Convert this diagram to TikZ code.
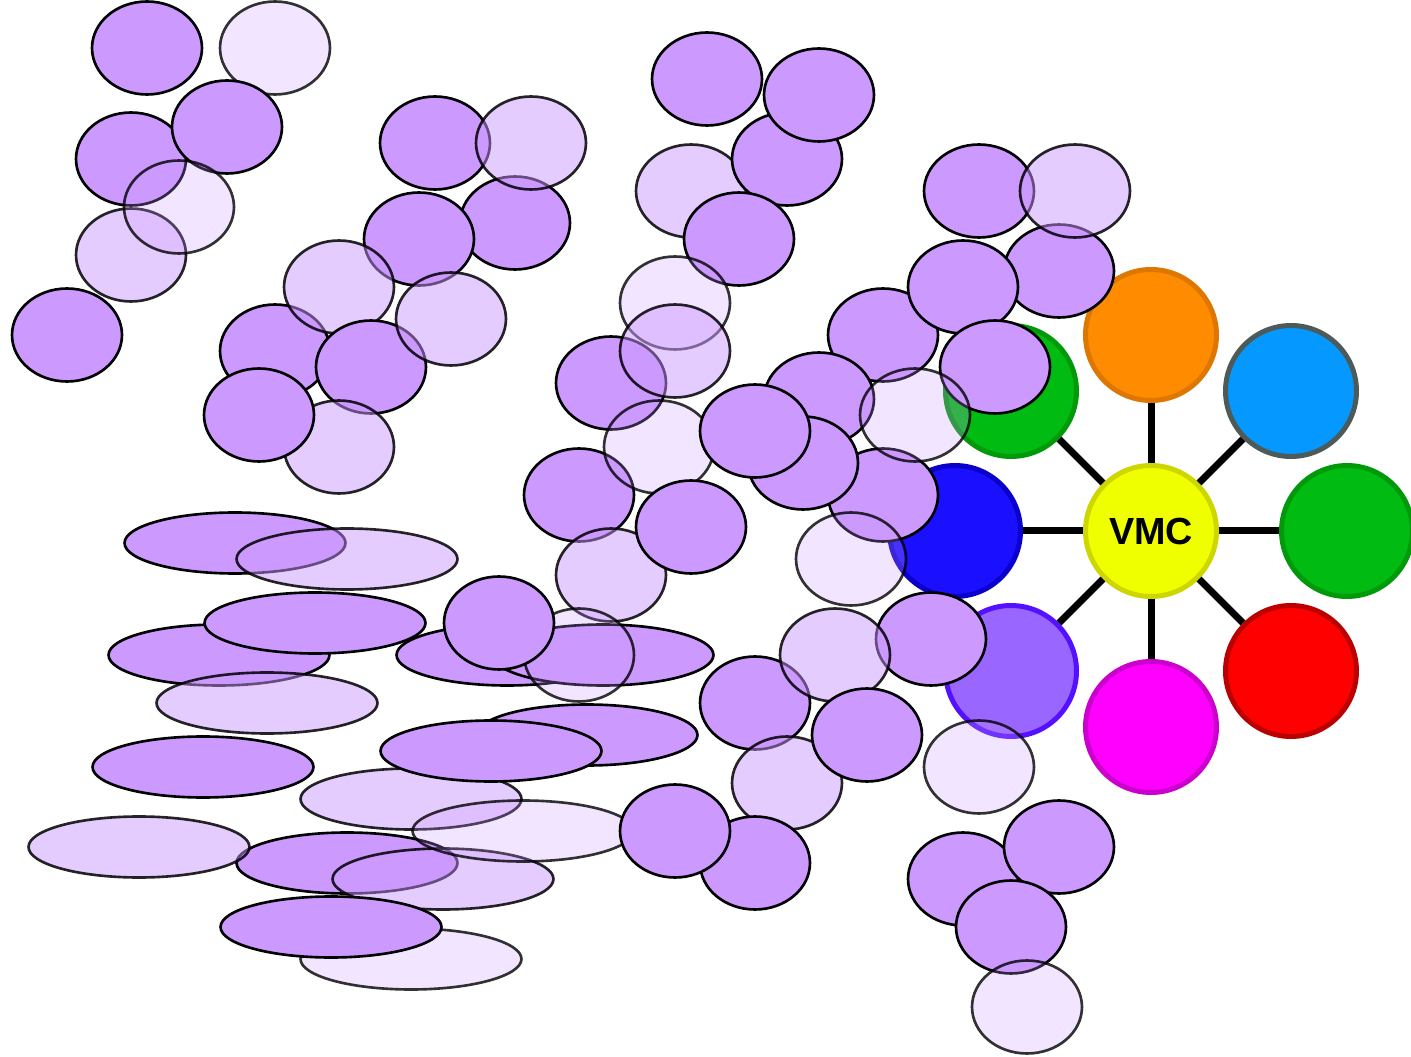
\documentclass[tikz,border=0pt]{standalone}
\usepackage{fontspec}
\setmainfont{Liberation Sans}
\usetikzlibrary{shapes.geometric}
\definecolor{bubble}{RGB}{204,153,255}
\definecolor{hubfill}{RGB}{240,255,0}
\definecolor{hubline}{RGB}{206,214,0}
\definecolor{grnfill}{RGB}{0,187,17}
\definecolor{grnline}{RGB}{0,153,10}
\definecolor{orafill}{RGB}{255,140,0}
\definecolor{oraline}{RGB}{221,119,0}
\definecolor{skyfill}{RGB}{5,153,255}
\definecolor{skyline}{RGB}{77,90,90}
\definecolor{redfill}{RGB}{255,0,0}
\definecolor{redline}{RGB}{187,0,0}
\definecolor{magfill}{RGB}{255,0,255}
\definecolor{magline}{RGB}{204,0,204}
\definecolor{vioFill}{RGB}{153,102,255}
\definecolor{violine}{RGB}{85,17,255}
\definecolor{blufill}{RGB}{26,16,255}
\definecolor{bluline}{RGB}{10,0,204}

\begin{document}
\begin{tikzpicture}[
    x=0.02cm, y=-0.02cm,
    line width=1.5pt,
    dk/.style={ellipse, draw=black, fill=bubble, minimum width=2.2cm, minimum height=1.86cm, inner sep=0pt},
    md/.style={dk, fill opacity=0.5, draw opacity=0.85},
    pl/.style={dk, fill opacity=0.25, draw opacity=0.8},
    flat/.style={minimum width=4.42cm, minimum height=1.22cm},
    sat/.style={circle, minimum size=2.62cm, line width=0.1cm, inner sep=0pt}]
    \useasboundingbox (0,0) rectangle (1411,1057);

    % HUB
    \node[sat, draw=hubline, fill=hubfill, font=\bfseries\fontsize{21.5}{25}\selectfont] (vmc) at (1151,531) {VMC};
    % satellites
    \node[sat, draw=grnline, fill=grnfill] (green1) at (1011,391) {};
    \node[sat, draw=oraline, fill=orafill] (orange) at (1151,335) {};
    \node[sat, draw=skyline, fill=skyfill] (sky) at (1291,391) {};
    \node[sat, draw=grnline, fill=grnfill] (green2) at (1347,531) {};
    \node[sat, draw=redline, fill=redfill] (red) at (1291,671) {};
    \node[sat, draw=magline, fill=magfill] (magenta) at (1151,727) {};
    \node[sat, draw=violine, fill=vioFill] (violet) at (1011,671) {};
    \node[sat, draw=bluline, fill=blufill] (blue) at (955,531) {};

    % SPOKES
    \foreach \s in {green1,orange,sky,green2,red,magenta,violet,blue}
        \draw[line width=0.14cm] (vmc) -- (\s);

    % BUBBLES
    % top left group
    \foreach \px/\py/\kind [count=\i] in {147/48/dk, 275/48/pl, 131/159/dk, 227/127/dk, 131/255/md, 179/207/pl, 67/335/dk}
        \node[\kind] (a\i) at (\px,\py) {};
    % second group
    \foreach \px/\py/\kind [count=\i] in {435/143/dk, 515/223/dk, 531/143/md, 419/239/dk, 275/351/dk, 339/287/md, 371/367/dk, 451/319/md, 339/447/md, 259/415/dk}
        \node[\kind] (b\i) at (\px,\py) {};
    % middle group
    \foreach \px/\py/\kind [count=\i] in {707/79/dk, 691/191/md, 787/159/dk, 819/95/dk, 739/239/dk, 675/303/pl, 611/383/dk, 675/351/md, 579/495/dk, 659/447/pl, 611/575/md, 691/527/dk}
        \node[\kind] (c\i) at (\px,\py) {};
    % right group
    \foreach \px/\py/\kind [count=\i] in {979/191/dk, 1059/271/dk, 1075/191/md, 883/335/dk, 963/287/dk, 995/367/dk, 819/399/dk, 883/495/dk, 803/463/dk, 755/431/dk, 915/415/pl, 851/559/pl}
        \node[\kind] (d\i) at (\px,\py) {};
    % flat ones
    \foreach \px/\py/\kind [count=\i] in {235/543/dk, 347/559/md, 219/655/dk, 315/623/dk, 267/703/md, 203/767/dk, 347/863/dk, 139/847/md, 411/799/md, 587/735/dk, 491/751/dk, 443/879/md, 411/959/pl, 331/927/dk, 523/831/pl, 507/655/dk, 603/655/dk}
        \node[\kind, flat] (f\i) at (\px,\py) {};
    \node[pl] (g1) at (579,655) {};
    \node[dk] (g2) at (499,623) {};
    % bottom right group
    \foreach \px/\py/\kind [count=\i] in {755/703/dk, 931/639/dk, 835/655/md, 787/783/md, 867/735/dk, 979/767/pl, 755/863/dk, 675/831/dk, 963/879/dk, 1059/847/dk, 1011/927/dk, 1027/1007/pl}
        \node[\kind] (e\i) at (\px,\py) {};
\end{tikzpicture}
\end{document}
